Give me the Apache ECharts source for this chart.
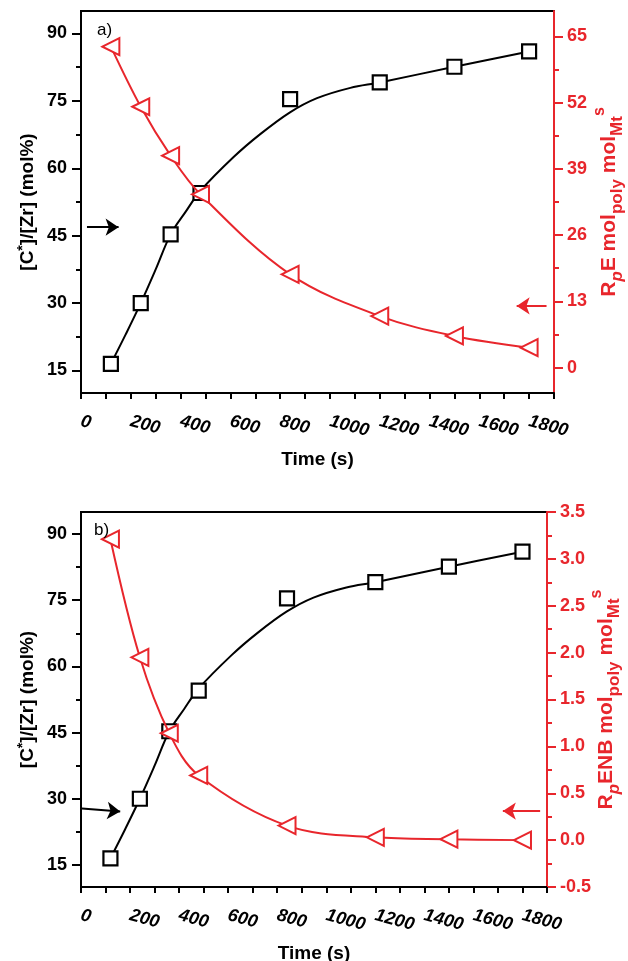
<!DOCTYPE html>
<html>
<head>
<meta charset="utf-8">
<script src="https://cdn.jsdelivr.net/npm/echarts@6/dist/echarts.min.js"></script>
<style>
  html, body { margin: 0; padding: 0; background: #fff; }
  #chart { width: 628px; height: 961px; }
</style>
</head>
<body>
<div id="chart"></div>
<script>
// data
const times = [120, 240, 360, 480, 840, 1200, 1500, 1800];
const activeSites = [16.5, 30, 45.3, 54.5, 75.4, 79.1, 82.6, 86];   // [C*]/[Zr] (mol%), both panels
const rateE = [63, 51.2, 41.6, 34, 18.3, 10.1, 6.2, 3.9];           // panel a, right axis
const rateENB = [3.21, 1.95, 1.14, 0.69, 0.155, 0.03, 0.01, 0.0];   // panel b, right axis

// black fitted curve
const fitTimes = [120, 180, 240, 300, 360, 420, 480, 613, 720, 838, 948, 1082, 1200, 1500, 1800];
const fitActive = [16.5, 23.1, 30, 37.5, 45.3, 50.3, 55.0, 62.5, 67.6, 72.4, 75.6, 77.9, 79.1, 82.6, 86];

const leftTicks = [15, 30, 45, 60, 75, 90];
const leftMinor = [22.5, 37.5, 52.5, 67.5, 82.5];
const rightTicksA = [0, 13, 26, 39, 52, 65];
const rightMinorA = [6.5, 19.5, 32.5, 45.5, 58.5];

const RED = "#e8262c";
const FONT = "Liberation Sans";

const pairs = (xs, ys) => xs.map((x, i) => [x, ys[i]]);

const chart = echarts.init(document.getElementById("chart"));

function xAxisFor(gi) {
  return {
    type: "value",
    gridIndex: gi,
    min: 0,
    max: 1900,
    interval: 100,
    name: "Time (s)",
    nameLocation: "middle",
    nameGap: 57,
    nameMoveOverlap: false,
    nameTextStyle: { fontFamily: FONT, fontWeight: "bold", fontSize: 19, color: "#000" },
    axisLine: { onZero: false, lineStyle: { color: "#000", width: 2 } },
    axisTick: { length: 6, lineStyle: { color: "#000", width: 2 } },
    splitLine: { show: false },
    axisLabel: {
      rotate: -15,
      margin: 28,
      fontFamily: FONT,
      fontWeight: "bold",
      fontStyle: "italic",
      fontSize: 18,
      color: "#000",
      formatter: v => (v % 200 === 0 && v <= 1800 ? String(v) : "")
    }
  };
}

function leftAxis(gi) {
  return {
    type: "value",
    gridIndex: gi,
    position: "left",
    min: 10,
    max: 95,
    name: "[C{sup|*}]/[Zr] (mol%)",
    nameLocation: "middle",
    nameGap: 41,
    nameMoveOverlap: false,
    nameRotate: 90,
    nameTextStyle: {
      fontFamily: FONT, fontWeight: "bold", fontSize: 19, color: "#000",
      rich: {
        sup: { fontFamily: FONT, fontWeight: "bold", fontSize: 14, verticalAlign: "top", lineHeight: 24 }
      }
    },
    axisLine: { show: true, onZero: false, lineStyle: { color: "#000", width: 2 } },
    axisTick: { show: true, length: 9, customValues: leftTicks, lineStyle: { color: "#000", width: 2 } },
    splitLine: { show: false },
    axisLabel: {
      customValues: leftTicks,
      margin: 14,
      fontFamily: FONT, fontWeight: "bold", fontSize: 18, color: "#000"
    }
  };
}

function minorAxis(gi, pos, min, max, vals, color) {
  return {
    type: "value",
    gridIndex: gi,
    position: pos,
    min: min,
    max: max,
    axisLine: { show: false, onZero: false },
    axisTick: { show: true, length: 5, customValues: vals, lineStyle: { color: color, width: 2 } },
    axisLabel: { show: false },
    splitLine: { show: false }
  };
}

const rightNameStyle = {
  fontFamily: FONT, fontWeight: "bold", fontSize: 21, color: RED,
  rich: {
    sub: { fontFamily: FONT, fontWeight: "bold", fontSize: 17, color: RED, verticalAlign: "bottom", lineHeight: 17 },
    subit: { fontFamily: FONT, fontWeight: "bold", fontStyle: "italic", fontSize: 17, color: RED, verticalAlign: "bottom", lineHeight: 17 },
    sup: { fontFamily: FONT, fontWeight: "bold", fontSize: 16, color: RED, verticalAlign: "top", lineHeight: 34 }
  }
};

const fitStyle = {
  type: "line",
  smooth: 0.35,
  showSymbol: false,
  symbol: "none",
  lineStyle: { color: "#000", width: 2 },
  z: 2
};

const squareStyle = {
  type: "scatter",
  symbol: "rect",
  symbolSize: 14,
  itemStyle: { color: "#fff", borderColor: "#000", borderWidth: 2.2, opacity: 1 },
  z: 3
};

const triStyle = {
  type: "line",
  smooth: 0.35,
  symbol: "triangle",
  symbolRotate: 90,
  symbolSize: 17,
  showSymbol: true,
  lineStyle: { color: RED, width: 2 },
  itemStyle: { color: "#fff", borderColor: RED, borderWidth: 2 },
  z: 4
};

function arrow(from, to, color) {
  return {
    silent: true,
    symbol: ["none", "arrow"],
    symbolSize: 13,
    label: { show: false },
    lineStyle: { color: color, width: 2, type: "solid" },
    data: [[{ coord: from }, { coord: to }]]
  };
}

const gridBase = {
  show: true,
  borderColor: "#000",
  borderWidth: 2,
  backgroundColor: "transparent",
  containLabel: false,
  outerBoundsMode: "none"
};

chart.setOption({
  animation: false,
  backgroundColor: "#fff",
  title: [
    { text: "a)", left: 92, top: 17, textStyle: { fontFamily: FONT, fontWeight: "normal", fontSize: 17, color: "#000" } },
    { text: "b)", left: 89, top: 517, textStyle: { fontFamily: FONT, fontWeight: "normal", fontSize: 17, color: "#000" } }
  ],
  grid: [
    Object.assign({}, gridBase, { left: 81, top: 11, width: 473, height: 382 }),
    Object.assign({}, gridBase, { left: 81, top: 512, width: 466, height: 375 })
  ],
  xAxis: [xAxisFor(0), xAxisFor(1)],
  yAxis: [
    leftAxis(0),
    {
      type: "value",
      gridIndex: 0,
      position: "right",
      min: -5,
      max: 70,
      name: "R{subit|p}E mol{sub|poly} mol{sub|Mt}{sup|s}",
      nameLocation: "middle",
      nameGap: 38,
      nameMoveOverlap: false,
      nameRotate: 90,
      nameTextStyle: rightNameStyle,
      axisLine: { show: true, onZero: false, lineStyle: { color: RED, width: 2 } },
      axisTick: { show: true, length: 9, customValues: rightTicksA, lineStyle: { color: RED, width: 2 } },
      splitLine: { show: false },
      axisLabel: { customValues: rightTicksA, margin: 13, fontFamily: FONT, fontWeight: "bold", fontSize: 18, color: RED }
    },
    minorAxis(0, "left", 10, 95, leftMinor, "#000"),
    minorAxis(0, "right", -5, 70, rightMinorA, RED),
    leftAxis(1),
    {
      type: "value",
      gridIndex: 1,
      position: "right",
      min: -0.5,
      max: 3.5,
      interval: 0.5,
      name: "R{subit|p}ENB mol{sub|poly} mol{sub|Mt}{sup|s}",
      nameLocation: "middle",
      nameGap: 42,
      nameMoveOverlap: false,
      nameRotate: 90,
      nameTextStyle: rightNameStyle,
      axisLine: { show: true, onZero: false, lineStyle: { color: RED, width: 2 } },
      axisTick: { show: true, length: 9, lineStyle: { color: RED, width: 2 } },
      minorTick: { show: true, splitNumber: 2, length: 5, lineStyle: { color: RED, width: 2 } },
      splitLine: { show: false },
      minorSplitLine: { show: false },
      axisLabel: {
        margin: 13, fontFamily: FONT, fontWeight: "bold", fontSize: 18, color: RED,
        formatter: v => v.toFixed(1)
      }
    },
    minorAxis(1, "left", 10, 95, leftMinor, "#000")
  ],
  series: [
    Object.assign({}, fitStyle, {
      name: "C* fit a", xAxisIndex: 0, yAxisIndex: 0,
      data: pairs(fitTimes, fitActive),
      markLine: arrow([24, 46.9], [151, 46.9], "#000")
    }),
    Object.assign({}, squareStyle, {
      name: "C* a", xAxisIndex: 0, yAxisIndex: 0,
      data: pairs(times, activeSites)
    }),
    Object.assign({}, triStyle, {
      name: "RpE", xAxisIndex: 0, yAxisIndex: 1,
      data: pairs(times, rateE),
      markLine: arrow([1870, 12.1], [1750, 12.1], RED)
    }),
    Object.assign({}, fitStyle, {
      name: "C* fit b", xAxisIndex: 1, yAxisIndex: 4,
      data: pairs(fitTimes, fitActive),
      markLine: arrow([4, 27.8], [160, 27.1], "#000")
    }),
    Object.assign({}, squareStyle, {
      name: "C* b", xAxisIndex: 1, yAxisIndex: 4,
      data: pairs(times, activeSites)
    }),
    Object.assign({}, triStyle, {
      name: "RpENB", xAxisIndex: 1, yAxisIndex: 5,
      data: pairs(times, rateENB),
      markLine: arrow([1872, 0.31], [1720, 0.31], RED)
    })
  ]
});
</script>
</body>
</html>
